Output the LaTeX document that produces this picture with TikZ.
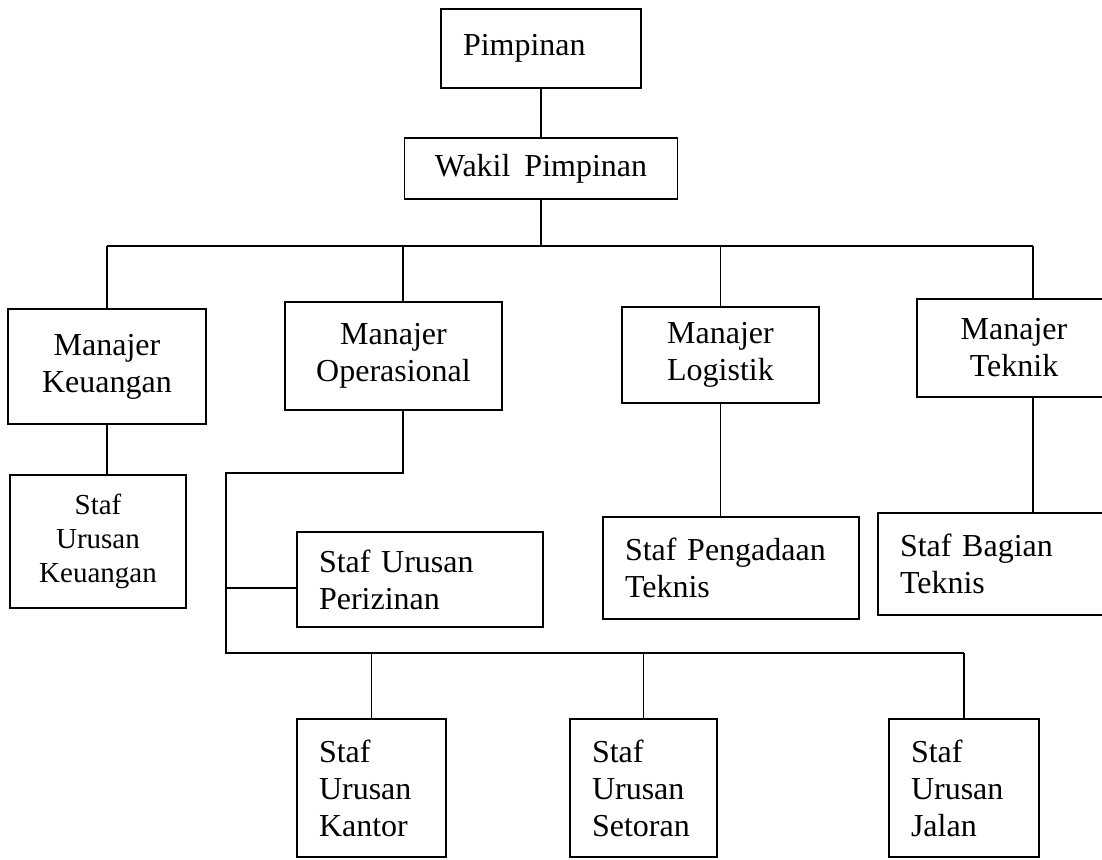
\documentclass[tikz,border=0pt]{standalone}
\usepackage{fontspec}
\setmainfont{Liberation Serif}
\usepackage{tikz}
\tikzset{
  box/.style={draw, line width=1.6pt, inner xsep=22pt, inner ysep=0pt, font=\fontsize{32}{37}\selectfont},
  small/.style={font=\fontsize{29}{34}\selectfont},
  link/.style={line width=1.1pt}
}

\begin{document}
\begin{tikzpicture}[x = 1pt, y = -1pt]
\useasboundingbox (0,0) rectangle (1102,859);
\clip (0,0) rectangle (1102,859);

\node[box, text width=156pt, minimum height=79pt, align=left] (pim) at (541, 48.5) {Pimpinan};
\node[box, text width=229pt, minimum height=61pt, align=center] (wakil) at (541, 168.5) {Wakil\hspace{14pt}Pimpinan};

\node[box, text width=154pt, minimum height=115pt, align=center] (mkeu) at (107, 366.5) {Manajer\\Keuangan};
\node[box, text width=173pt, minimum height=108pt, align=center] (mops) at (393.5, 356) {Manajer\\Operasional};
\node[box, text width=153pt, minimum height=96pt, align=center] (mlog) at (720.5, 355) {Manajer\\Logistik};
\node[box, text width=150pt, minimum height=98pt, align=center] (mtek) at (1014, 348) {Manajer\\Teknik};

\node[box, small, text width=132pt, minimum height=133pt, align=center] (skeu) at (98, 541.5) {Staf\\Urusan\\Keuangan};
\node[box, text width=202pt, minimum height=95pt, align=left] (sizin) at (420, 579.5) {Staf Urusan\\Perizinan};
\node[box, text width=212pt, minimum height=102pt, align=left] (speng) at (731, 568) {Staf Pengadaan\\Teknis};
\node[box, text width=198pt, minimum height=102pt, align=left] (sbag) at (999, 564) {Staf Bagian\\Teknis};

\node[box, text width=105pt, minimum height=138pt, align=left] (skan) at (371.5, 788) {Staf\\Urusan\\Kantor};
\node[box, text width=103pt, minimum height=138pt, align=left] (sset) at (643.5, 788) {Staf\\Urusan\\Setoran};
\node[box, text width=106pt, minimum height=138pt, align=left] (sjal) at (964, 788) {Staf\\Urusan\\Jalan};

\coordinate (busL) at (107, 246);
\coordinate (busR) at (1033, 246);
\coordinate (opsx) at (403, 246);
\coordinate (elbow) at (226, 473);
\coordinate (izin) at (226, 588);
\coordinate (bus2L) at (226, 653);

\draw[link] (pim) -- (wakil);
\draw[link] (wakil.south) -- (wakil.south |- busL);
\draw[link] (busL) -- (busR);
\draw[link] (busL) -- (mkeu.north);
\draw[link] (opsx) -- (opsx |- mops.north);
\draw[link] (mlog.north |- busL) -- (mlog.north);
\draw[link] (busR) -- (busR |- mtek.north);

\draw[link] (mkeu.south) -- (mkeu.south |- skeu.north);
\draw[link] (opsx |- mops.south) |- (elbow) -- (bus2L) -- (sjal.north |- bus2L);
\draw[link] (izin) -- (izin -| sizin.west);
\draw[link] (mlog.south) -- (mlog.south |- speng.north);
\draw[link] (busR |- mtek.south) -- (busR |- sbag.north);

\draw[link] (skan.north |- bus2L) -- (skan.north);
\draw[link] (sset.north |- bus2L) -- (sset.north);
\draw[link] (sjal.north |- bus2L) -- (sjal.north);

\end{tikzpicture}
\end{document}
